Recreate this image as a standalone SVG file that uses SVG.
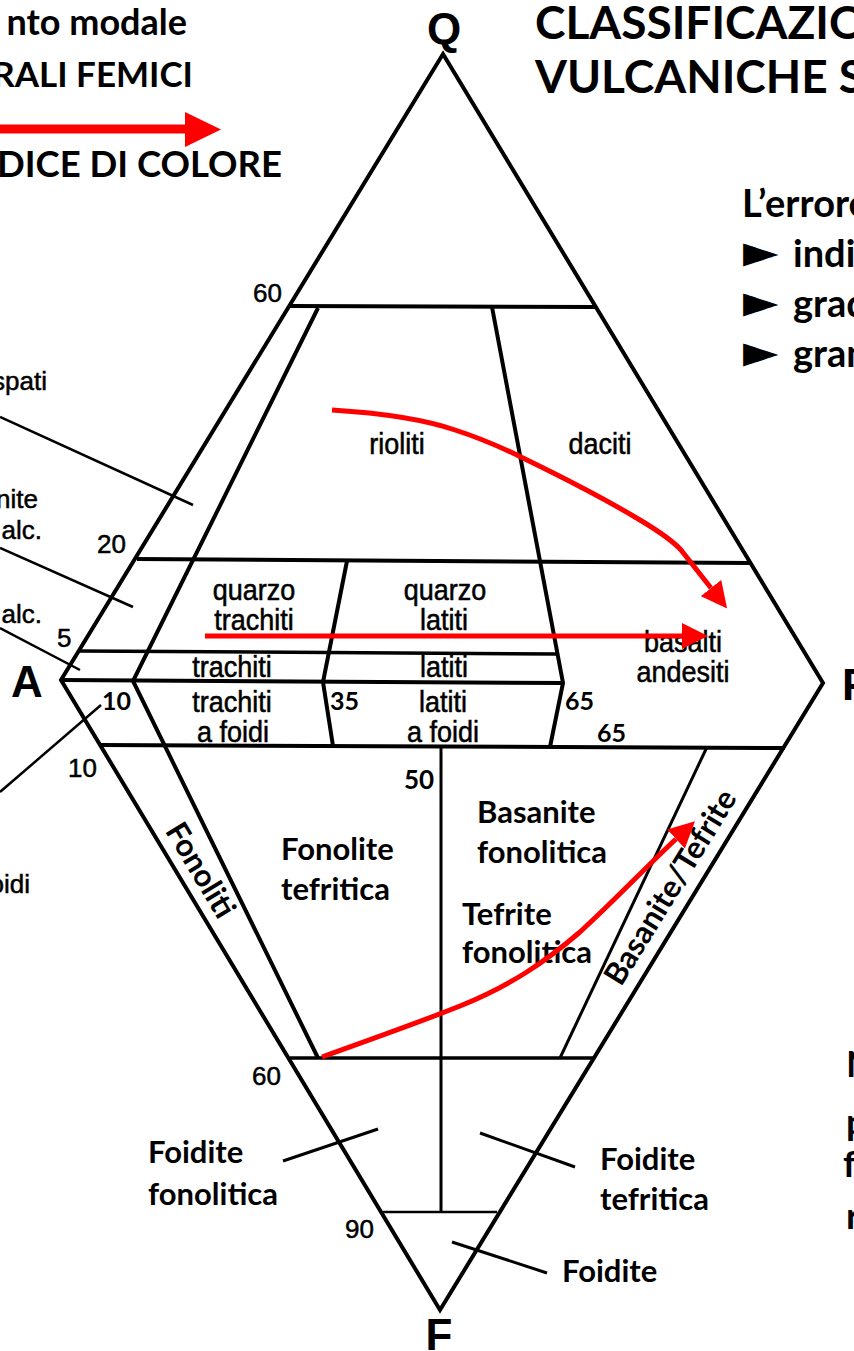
<svg xmlns="http://www.w3.org/2000/svg" width="854" height="1351" viewBox="0 0 854 1351">
<style>
.ln{stroke:#000;stroke-width:4;fill:none;stroke-linejoin:miter}
.md{stroke:#000;stroke-width:3.5;fill:none}
.th{stroke:#000;stroke-width:3;fill:none}
.ld{stroke:#000;stroke-width:2.5;fill:none}
.h{font-family:"Liberation Sans",Arial,sans-serif;font-size:27px;fill:#000;stroke:#000;stroke-width:0.5;text-anchor:middle}
.n{font-family:"Liberation Sans",Arial,sans-serif;font-size:26px;fill:#000;stroke:#000;stroke-width:0.5}
.c{font-family:Lato,"Open Sans",sans-serif;font-weight:700;fill:#000}
.v{font-family:"Liberation Sans",Arial,sans-serif;font-weight:700;font-size:44px;fill:#000}
.ra{stroke:#f00;stroke-width:5;fill:none;stroke-linejoin:round}
.bl{font-family:"DejaVu Sans",sans-serif;font-weight:400;font-size:46px}
</style>
<defs>
<marker id="ah" markerUnits="userSpaceOnUse" viewBox="0 0 26 26" refX="0" refY="13" markerWidth="26" markerHeight="26" orient="auto">
<path d="M0,0 L26,13 L0,26 Z" fill="#f00"/>
</marker>
</defs>
<rect width="854" height="1351" fill="#fff"/>

<g id="legend">
<text class="c" font-size="36" x="187" y="35" text-anchor="end">nto modale</text>
<text class="c" font-size="35" x="193" y="87" text-anchor="end">RALI FEMICI</text>
<line x1="0" y1="129" x2="186" y2="129" stroke="#f00" stroke-width="9"/>
<polygon points="185,112 221,129.5 185,147" fill="#f00"/>
<text class="c" font-size="36.5" x="282" y="177" text-anchor="end">DICE DI COLORE</text>
</g>

<g id="title">
<text class="c" font-size="46" x="535" y="39">CLASSIFICAZIO</text>
<text class="c" font-size="46" x="535" y="93">VULCANICHE S</text>
</g>

<g id="notes">
<text class="c" font-size="38" x="742" y="217">L’errore</text>
<text class="c" font-size="38" x="743" y="267"><tspan class="bl">►</tspan><tspan x="793">indi</tspan></text>
<text class="c" font-size="38" x="743" y="317"><tspan class="bl">►</tspan><tspan x="793">grad</tspan></text>
<text class="c" font-size="38" x="743" y="367"><tspan class="bl">►</tspan><tspan x="793">gran</tspan></text>
<text class="c" font-size="37" x="846" y="1077">N</text>
<text class="c" font-size="37" x="846" y="1135">p</text>
<text class="c" font-size="37" x="843" y="1177">f</text>
<text class="c" font-size="37" x="846" y="1229">r</text>
</g>

<g id="frame">
<path class="ln" d="M443,54 L823,683 L440,1310 L61,680 Z"/>
<path class="ln" d="M290,306 L595,307"/>
<path class="ln" d="M137,559 L750,563"/>
<path class="md" d="M79,651 L557,654"/>
<path class="ln" d="M61,680 L563,683"/>
<path class="ln" d="M100,745 L785,748"/>
<path class="md" d="M290,1058 L594,1058"/>
<path class="ld" d="M383,1212 L497,1212"/>
<path class="ln" d="M318,308 L133,681 L318,1058"/>
<path class="ln" d="M347,561 L323,682 L333,746"/>
<path class="ln" d="M492,307 L563,683 L550,747"/>
<path class="th" d="M441,747 L441,1212"/>
<path class="th" d="M707,747 L560,1058"/>
</g>

<g id="leaders">
<path class="ld" d="M0,417 L193,505"/>
<path class="ld" d="M0,548 L133,607"/>
<path class="ld" d="M0,628 L80,670"/>
<path class="ld" d="M0,792 L101,705"/>
<path class="th" d="M283,1161 L378,1129"/>
<path class="th" d="M480,1133 L575,1167"/>
<path class="th" d="M452,1242 L547,1273"/>
</g>

<g id="vertices">
<text class="v" x="444" y="44" text-anchor="middle" font-size="42">Q</text>
<text class="v" x="11" y="697">A</text>
<text class="v" x="842" y="700">P</text>
<text class="v" x="439" y="1350" text-anchor="middle">F</text>
</g>

<g id="left-labels">
<text class="n" x="47" y="390" text-anchor="end">spati</text>
<text class="n" x="38" y="508" text-anchor="end">nite</text>
<text class="n" x="42" y="539" text-anchor="end">alc.</text>
<text class="n" x="42" y="623" text-anchor="end">alc.</text>
<text class="n" x="30" y="893" text-anchor="end">oidi</text>
</g>

<g id="fields">
<text class="h" transform="translate(397,454) scale(1,1.12)">rioliti</text>
<text class="h" transform="translate(600,454) scale(1,1.12)">daciti</text>
<text class="h" transform="translate(254,600) scale(1,1.12)">quarzo</text>
<text class="h" transform="translate(254,630) scale(1,1.12)">trachiti</text>
<text class="h" transform="translate(445,600) scale(1,1.12)">quarzo</text>
<text class="h" transform="translate(444,630) scale(1,1.12)">latiti</text>
<text class="h" transform="translate(232,677) scale(1,1.12)">trachiti</text>
<text class="h" transform="translate(444,677) scale(1,1.12)">latiti</text>
<text class="h" transform="translate(232,712) scale(1,1.12)">trachiti</text>
<text class="h" transform="translate(233,742) scale(1,1.12)">a foidi</text>
<text class="h" transform="translate(443,712) scale(1,1.12)">latiti</text>
<text class="h" transform="translate(443,742) scale(1,1.12)">a foidi</text>
<text class="h" transform="translate(683,652) scale(1,1.12)">basalti</text>
<text class="h" transform="translate(683,682) scale(1,1.12)">andesiti</text>

<text class="c" font-size="31" x="281" y="860">Fonolite</text>
<text class="c" font-size="31" x="281" y="900">tefritica</text>
<text class="c" font-size="31" x="477" y="823">Basanite</text>
<text class="c" font-size="31" x="477" y="863">fonolitica</text>
<text class="c" font-size="31" x="462" y="925">Tefrite</text>
<text class="c" font-size="31" x="462" y="963">fonolitica</text>
<text class="c" font-size="31" x="148" y="1163">Foidite</text>
<text class="c" font-size="31" x="148" y="1205">fonolitica</text>
<text class="c" font-size="31" x="600" y="1170">Foidite</text>
<text class="c" font-size="31" x="600" y="1210">tefritica</text>
<text class="c" font-size="31" x="562" y="1282">Foidite</text>
<text class="c" font-size="31" transform="translate(201,870) rotate(59)" text-anchor="middle" y="11">Fonoliti</text>
<text class="c" font-size="31" transform="translate(670,887) rotate(-58.4)" text-anchor="middle" y="11">Basanite/Tefrite</text>
</g>

<g id="ticks">
<text class="n" x="253" y="302">60</text>
<text class="n" x="97" y="553">20</text>
<text class="n" x="57" y="647">5</text>
<text class="n" x="68" y="777">10</text>
<text class="n" x="252" y="1085">60</text>
<text class="n" x="345" y="1238">90</text>
<text class="c" font-size="25" x="102" y="710">10</text>
<text class="c" font-size="25" x="330" y="710">35</text>
<text class="c" font-size="25" x="565" y="710">65</text>
<text class="c" font-size="25" x="597" y="742">65</text>
<text class="c" font-size="26" x="404" y="789">50</text>
</g>

<g id="connectors">
<path class="ra" d="M332,410 C380,413 420,418 455,430 C480,438 505,449 525,459 C560,476 600,496 640,520 C660,532 672,540 681,550 L711,588" marker-end="url(#ah)"/>
<polyline class="ra" points="205,636 682,636" marker-end="url(#ah)"/>
<path class="ra" d="M322,1057 C380,1036 420,1022 460,1006 C510,986 545,962 580,932 C615,900 645,868 676,839" marker-end="url(#ah)"/>
</g>
</svg>
